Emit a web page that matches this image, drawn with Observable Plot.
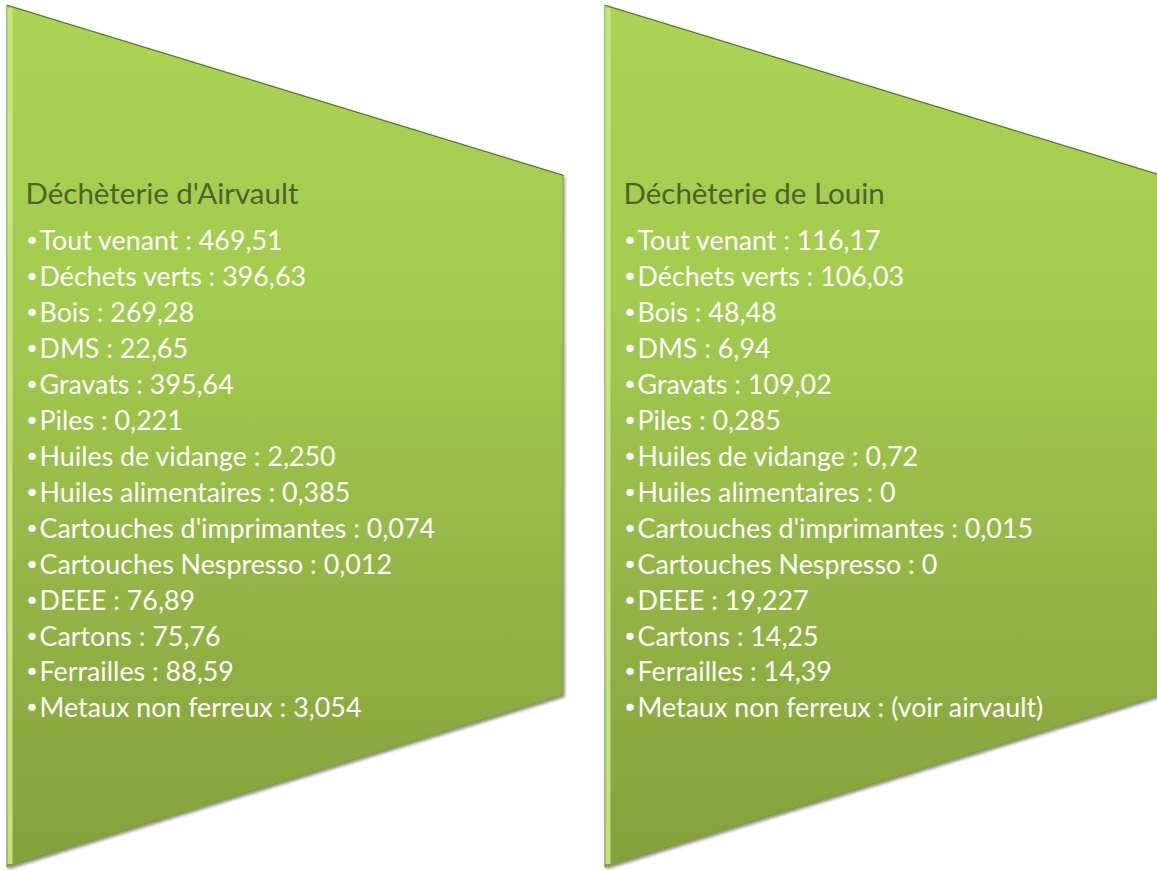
<!DOCTYPE html>
<html>
<head>
<meta charset="utf-8">
<script src="https://cdn.jsdelivr.net/npm/d3@7"></script>
<script src="https://cdn.jsdelivr.net/npm/@observablehq/plot@0.6"></script>
<style>
  html, body { margin: 0; padding: 0; background: #ffffff; }
  #chart { width: 1157px; height: 870px; overflow: hidden; }
</style>
</head>
<body>
<div id="chart"></div>
<script>
// ---- data ----
const sites = ["Déchèterie d'Airvault", "Déchèterie de Louin"];
const categories = [
  "Tout venant", "Déchets verts", "Bois", "DMS", "Gravats", "Piles",
  "Huiles de vidange", "Huiles alimentaires", "Cartouches d'imprimantes",
  "Cartouches Nespresso", "DEEE", "Cartons", "Ferrailles", "Metaux non ferreux"
];
const airvaultValues = ["469,51", "396,63", "269,28", "22,65", "395,64", "0,221",
  "2,250", "0,385", "0,074", "0,012", "76,89", "75,76", "88,59", "3,054"];
const louinValues = ["116,17", "106,03", "48,48", "6,94", "109,02", "0,285",
  "0,72", "0", "0,015", "0", "19,227", "14,25", "14,39", "(voir airvault)"];
const seriesValues = [airvaultValues, louinValues];

// ---- layout ----
const W = 1157, H = 870;
const panelLeft = [7, 605];
const panelWidth = 556;
const topY = 5, shoulderY = 175, lowerY = 695, bottomY = 867;
const titleY = 194, firstItemY = 241, lineStep = 35.95;
const font = "Lato, 'Open Sans', sans-serif";

function measure(text, size) {
  const c = document.createElement("canvas").getContext("2d");
  c.font = `normal ${size}px Lato`;
  return c.measureText(text).width;
}
const itemSize = 22 * 322 / measure("Metaux non ferreux : 3,054", 22);
const titleSize = 26 * 273 / measure("Déchèterie d'Airvault", 26);

// shapes
const shapeRows = [];
sites.forEach((s, i) => {
  shapeRows.push({site: s, x: panelLeft[i], y1: topY, y2: bottomY});
  shapeRows.push({site: s, x: panelLeft[i] + panelWidth, y1: shoulderY, y2: lowerY});
});
const topEdgeRows = [];
sites.forEach((s, i) => {
  topEdgeRows.push({site: s, x: panelLeft[i], y: topY});
  topEdgeRows.push({site: s, x: panelLeft[i] + panelWidth, y: shoulderY});
});
const titleRows = sites.map((s, i) => ({site: s, x: panelLeft[i] + 18, y: titleY, text: s}));
const itemRows = [];
sites.forEach((s, i) => {
  categories.forEach((c, j) => {
    itemRows.push({site: s, x: panelLeft[i] + 17, y: firstItemY + j * lineStep,
      text: "•" + c + " : " + seriesValues[i][j]});
  });
});
const edgeRows = sites.map((s, i) => ({x: panelLeft[i] + 2.5, y1: topY + 3, y2: bottomY - 3}));

const chart = Plot.plot({
  width: W, height: H,
  margin: 0,
  x: {domain: [0, W], range: [0, W], axis: null},
  y: {domain: [0, H], range: [0, H], axis: null},
  style: {background: "#ffffff", fontFamily: font},
  marks: [
    Plot.areaY(shapeRows, {x: "x", y1: "y1", y2: "y2", z: "site", fill: "url(#greenGrad)",
      stroke: "#6d8a2e", strokeWidth: 0.6}),
    Plot.line(topEdgeRows, {x: "x", y: "y", z: "site", stroke: "#3f4f1a", strokeWidth: 1, strokeOpacity: 0.7}),
    Plot.ruleX(edgeRows, {x: "x", y1: "y1", y2: "y2", stroke: "#c9e88a", strokeWidth: 5, strokeOpacity: 0.9}),
    Plot.text(titleRows, {x: "x", y: "y", text: "text", textAnchor: "start", fill: "#4f6228",
      fontSize: titleSize, fontFamily: font}),
    Plot.text(itemRows, {x: "x", y: "y", text: "text", textAnchor: "start", fill: "#ffffff",
      fontSize: itemSize, fontFamily: font, className: "items"})
  ]
});

// gradient + shadow definitions
const ns = "http://www.w3.org/2000/svg";
const defs = document.createElementNS(ns, "defs");
defs.innerHTML = `
  <linearGradient id="greenGrad" gradientUnits="userSpaceOnUse" x1="0" y1="${topY}" x2="0" y2="${bottomY}">
    <stop offset="0" stop-color="#aad453"/>
    <stop offset="0.35" stop-color="#a3cb4f"/>
    <stop offset="0.7" stop-color="#93b345"/>
    <stop offset="1" stop-color="#85a03b"/>
  </linearGradient>
  <filter id="shadow" x="-5%" y="-5%" width="110%" height="110%">
    <feDropShadow dx="1.5" dy="2" stdDeviation="1.8" flood-color="#000" flood-opacity="0.45"/>
  </filter>`;
chart.insertBefore(defs, chart.firstChild);
const areaG = chart.querySelector("g[aria-label='area']");
if (areaG) areaG.setAttribute("filter", "url(#shadow)");

// larger bullet glyph, like the original list style
chart.querySelectorAll("g.items text").forEach(t => {
  const s = t.textContent;
  if (s.startsWith("•")) {
    t.textContent = "";
    const b = document.createElementNS(ns, "tspan");
    b.setAttribute("font-family", "'DejaVu Sans', sans-serif");
    b.setAttribute("font-size", itemSize * 0.95);
    b.textContent = "•";
    const r = document.createElementNS(ns, "tspan");
    r.textContent = s.slice(1);
    t.appendChild(b);
    t.appendChild(r);
  }
});

document.getElementById("chart").appendChild(chart);
</script>
</body>
</html>
